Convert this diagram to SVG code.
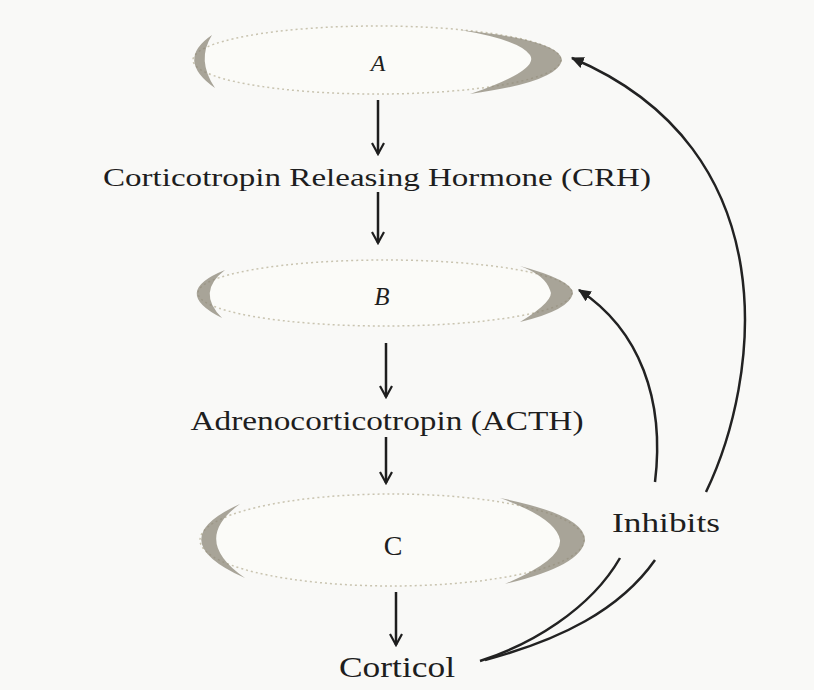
<svg xmlns="http://www.w3.org/2000/svg" width="814" height="690" viewBox="0 0 814 690">
<style>
.bg{fill:#f9f9f7}
.lbl{font-family:"Liberation Serif","DejaVu Serif",serif;fill:#1e1e1e;text-anchor:middle}
.arr{stroke:#1e1e1e;stroke-width:2.5;fill:none}
.curve{stroke:#222;stroke-width:2.5;fill:none}
.gland{fill:#fbfbf8;stroke:#c9c4b0;stroke-width:1.5;stroke-dasharray:2 3}
.shade{fill:#8c8778;opacity:0.75}
</style>
<defs>
<marker id="ah" viewBox="0 0 14 14" refX="12" refY="7" markerWidth="14" markerHeight="14" markerUnits="userSpaceOnUse" orient="auto">
<path d="M1 1 L12 7 L1 13" fill="none" stroke="#1e1e1e" stroke-width="2.2"/>
</marker>
<marker id="ahf" viewBox="0 0 12 12" refX="10" refY="6" markerWidth="14" markerHeight="14" markerUnits="userSpaceOnUse" orient="auto">
<path d="M0 1 L11 6 L0 11 Z" fill="#222"/>
</marker>
</defs>
<rect class="bg" x="0" y="0" width="814" height="690"/>
<g id="nodeA">
<ellipse class="gland" cx="377" cy="60" rx="184" ry="34"/>
<path class="shade" d="M460 30 Q560 40 562 60 Q558 82 470 94 Q540 70 530 55 Q520 40 460 30 Z"/>
<path class="shade" d="M212 35 Q175 60 215 88 Q196 60 212 35 Z"/>
<text class="lbl" x="378" y="71" font-size="24" font-style="italic">A</text>
</g>
<g id="nodeCRH">
<text class="lbl" x="377" y="186" font-size="25" textLength="548" lengthAdjust="spacingAndGlyphs">Corticotropin Releasing Hormone (CRH)</text>
</g>
<g id="nodeB">
<ellipse class="gland" cx="385" cy="293" rx="187" ry="33"/>
<path class="shade" d="M520 266 Q572 280 573 293 Q570 310 520 322 Q556 300 550 290 Q545 275 520 266 Z"/>
<path class="shade" d="M225 270 Q170 292 222 318 Q196 292 225 270 Z"/>
<text class="lbl" x="382" y="305" font-size="25" font-style="italic">B</text>
</g>
<g id="nodeACTH">
<text class="lbl" x="387" y="430" font-size="28" textLength="393" lengthAdjust="spacingAndGlyphs">Adrenocorticotropin (ACTH)</text>
</g>
<g id="nodeC">
<ellipse class="gland" cx="392" cy="540" rx="192" ry="46"/>
<path class="shade" d="M500 498 Q585 515 585 540 Q582 566 505 584 Q562 560 560 540 Q556 518 500 498 Z"/>
<path class="shade" d="M240 504 Q160 540 245 578 Q190 540 240 504 Z"/>
<text class="lbl" x="393" y="555" font-size="28">C</text>
</g>
<g id="nodeCorticol">
<text class="lbl" x="397" y="677" font-size="29" textLength="116" lengthAdjust="spacingAndGlyphs">Corticol</text>
</g>
<g id="nodeInhibits">
<text class="lbl" x="666" y="532" font-size="27" textLength="108" lengthAdjust="spacingAndGlyphs">Inhibits</text>
</g>
<g id="connectors">
<line class="arr" x1="378" y1="100" x2="378" y2="154" marker-end="url(#ah)"/>
<line class="arr" x1="378" y1="192" x2="378" y2="243" marker-end="url(#ah)"/>
<line class="arr" x1="386" y1="343" x2="386" y2="397" marker-end="url(#ah)"/>
<line class="arr" x1="386" y1="437" x2="386" y2="483" marker-end="url(#ah)"/>
<line class="arr" x1="396" y1="592" x2="396" y2="645" marker-end="url(#ah)"/>
<path class="curve" d="M706 492 C760 380 790 150 572 58" marker-end="url(#ahf)"/>
<path class="curve" d="M655 482 C665 400 640 330 579 290" marker-end="url(#ahf)"/>
<path class="curve" d="M620 558 C590 610 530 645 480 661"/>
<path class="curve" d="M655 560 C620 610 560 640 485 660"/>
</g>
</svg>
